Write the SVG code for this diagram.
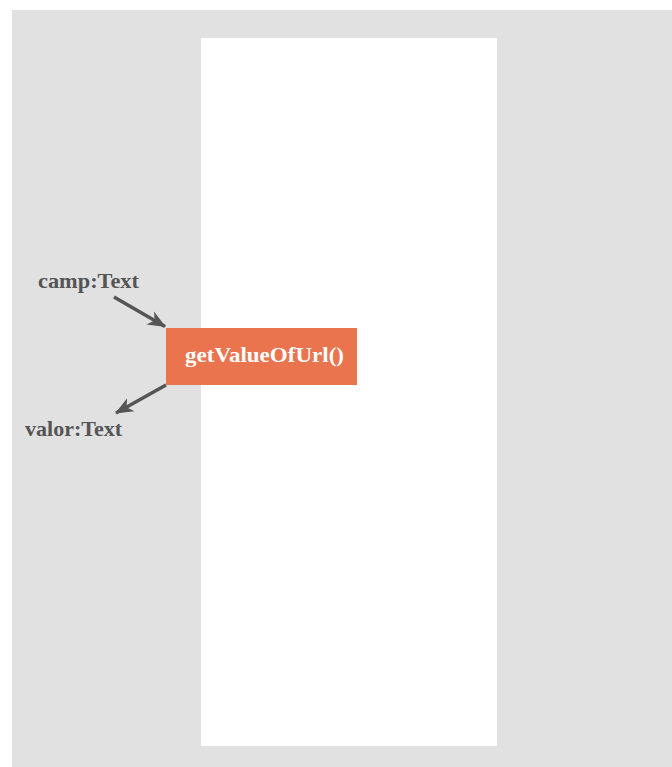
<svg xmlns="http://www.w3.org/2000/svg" width="672" height="767" viewBox="0 0 672 767">
  <style>
    .lbl { font-family: "Liberation Serif", "Times New Roman", serif; font-weight: bold; font-size: 21px; fill: #555555; }
    .fn { font-family: "Liberation Serif", "Times New Roman", serif; font-weight: bold; font-size: 21px; fill: #ffffff; }
    .link { stroke: #555555; stroke-width: 3.5; fill: none; }
  </style>
  <defs>
    <marker id="arrow" viewBox="0 0 18 18" refX="17" refY="9" markerWidth="18" markerHeight="18" markerUnits="userSpaceOnUse" orient="auto">
      <path d="M0,1.5 L18,9 L0,16.5 L5,9 Z" fill="#555555"/>
    </marker>
  </defs>

  <!-- canvas -->
  <rect x="12" y="10" width="660" height="757" fill="#e1e1e1"/>
  <rect x="201" y="38" width="296" height="708" fill="#ffffff"/>

  <!-- connectors -->
  <g id="connectors">
    <line class="link" x1="114" y1="297" x2="165" y2="326.5" marker-end="url(#arrow)"/>
    <line class="link" x1="166" y1="385" x2="116" y2="413" marker-end="url(#arrow)"/>
  </g>

  <!-- function node -->
  <g id="getValueOfUrl">
    <rect x="166" y="328" width="191" height="57" fill="#e9744e"/>
    <text class="fn" x="185" y="361.5" textLength="159" lengthAdjust="spacingAndGlyphs">getValueOfUrl()</text>
  </g>

  <!-- input parameter -->
  <g id="camp">
    <text class="lbl" x="38" y="287.5" textLength="101" lengthAdjust="spacingAndGlyphs">camp:Text</text>
  </g>

  <!-- output value -->
  <g id="valor">
    <text class="lbl" x="25" y="435.5" textLength="97" lengthAdjust="spacingAndGlyphs">valor:Text</text>
  </g>
</svg>
